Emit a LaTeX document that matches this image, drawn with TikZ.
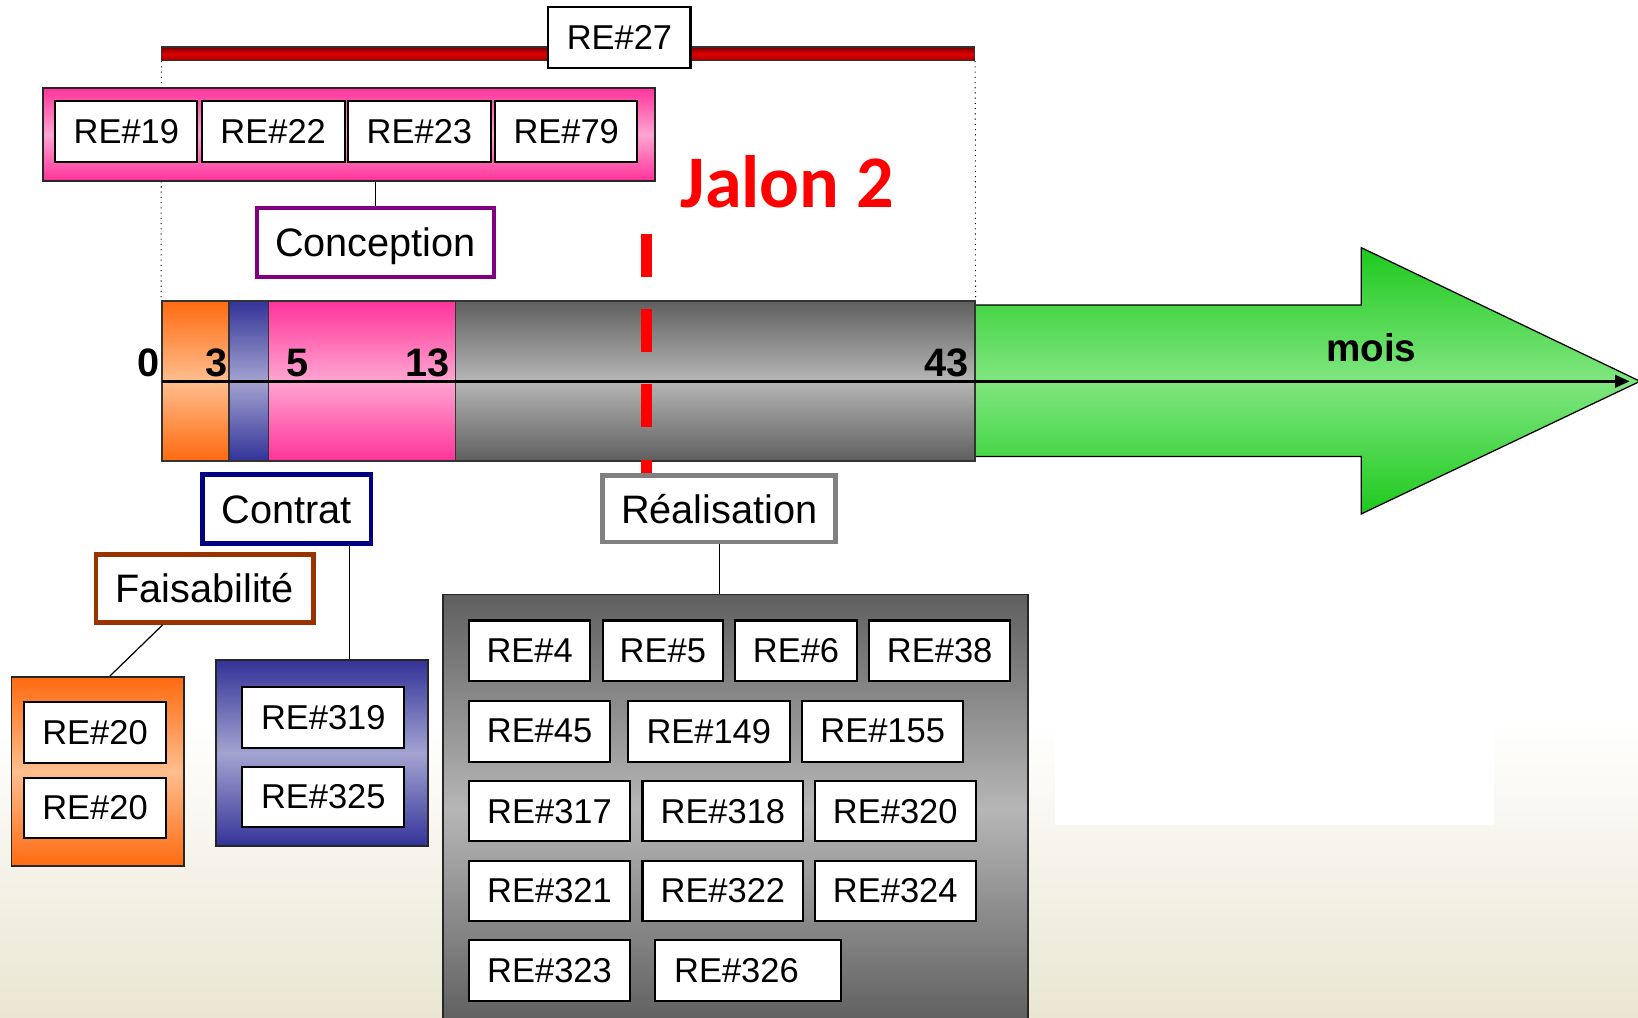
\documentclass[tikz,border=0pt]{standalone}
\usepackage{fontspec}
\setmainfont{Liberation Sans}
\newfontfamily\jalonfont{Carlito}
\usetikzlibrary{fit,calc,arrows.meta}

\definecolor{bgbeige}{HTML}{EAE6D2}
\definecolor{orEdge}{HTML}{FF6A10}
\definecolor{orMid}{HTML}{FFBE8E}
\definecolor{blEdge}{HTML}{333399}
\definecolor{blMid}{HTML}{A3A3D1}
\definecolor{pkEdge}{HTML}{FF3399}
\definecolor{pkMid}{HTML}{FFA6D2}
\definecolor{grEdge}{HTML}{5F5F5F}
\definecolor{grMid}{HTML}{B6B6B6}
\definecolor{gnEdge}{HTML}{1DC91D}
\definecolor{gnMid}{HTML}{80E680}
\definecolor{rbTop}{HTML}{7A0000}
\definecolor{rbMid}{HTML}{E00000}
\definecolor{rbBot}{HTML}{A00000}
\definecolor{conceptc}{HTML}{800080}
\definecolor{contratc}{HTML}{000080}
\definecolor{faisac}{HTML}{993300}
\definecolor{realc}{HTML}{808080}
\definecolor{jalonred}{HTML}{FF0000}

\newcommand\refont{\fontsize{16.5pt}{18pt}\selectfont}
\newcommand\phasefont{\fontsize{19pt}{21pt}\selectfont}
\newcommand\numfont{\bfseries\fontsize{19pt}{21pt}\selectfont}
% box node spanning the corners (x1,y1)-(x2,y2)
\newcommand\bx[7][rebox]{\node[#1, minimum width={(#5-#3)*0.5pt}, minimum height={(#6-#4)*0.5pt}]
  (#2) at ({(#3+#5)/2},{(#4+#6)/2}) {#7};}

\begin{document}
\begin{tikzpicture}[x=0.5pt,y=-0.5pt,
  rebox/.style={draw=black, fill=white, line width=1pt, inner sep=0pt, font=\refont},
  grp/.style={inner sep=0pt, draw=black!85, line width=0.8pt},
  seg/.style={inner sep=0pt, draw=black!80, line width=0.8pt},
  phase/.style={fill=white, line width=2.2pt, inner sep=0pt, font=\phasefont,
                text height=13.7pt, text depth=0pt},
  orshade/.style={top color=orEdge, bottom color=orEdge, middle color=orMid},
  blshade/.style={top color=blEdge, bottom color=blEdge, middle color=blMid},
  pkshade/.style={top color=pkEdge, bottom color=pkEdge, middle color=pkMid},
  grshade/.style={top color=grEdge, bottom color=grEdge, middle color=grMid},
  link/.style={draw=black, line width=0.6pt},
  numlabel/.style={font=\numfont, inner sep=0pt}]
\useasboundingbox (0,0) rectangle (1568,974);

% page background
\fill[white] (0,0) rectangle (1568,974);
\shade[top color=white, bottom color=bgbeige] (0,690) rectangle (1568,974);
\fill[white] (1010,650) rectangle (1430,790);

% time arrow
\path[draw=black, line width=0.6pt, top color=gnEdge, bottom color=gnEdge, middle color=gnMid]
  (933,292) -- (1303,292) -- (1303,237) -- (1570,365) -- (1303,492) -- (1303,437) -- (933,437) -- cycle;

% phase segments of the timeline
\node[seg, orshade, fit={(155,288) (219,441)}] (seg0) {};
\node[seg, blshade, fit={(219,288) (257,441)}] (seg1) {};
\node[seg, pkshade, fit={(257,288) (436,441)}] (seg2) {};
\node[seg, grshade, fit={(436,288) (933,441)}] (seg3) {};

\coordinate (axisL) at (155,365);
\coordinate (axisR) at (1560,365);
\draw[line width=1.2pt, -{Triangle[length=7pt,width=6pt]}] (axisL) -- (axisR);

\node[numlabel, anchor=base east] (m0) at (153,360) {0};
\node[numlabel, anchor=base east] (m3) at (218,360) {3};
\node[numlabel, anchor=base west] (m5) at (274,360) {5};
\node[numlabel, anchor=base east] (m13) at (431,360) {13};
\node[numlabel, anchor=base east] (m43) at (928,360) {43};
\node[font=\bfseries\fontsize{18.5pt}{20pt}\selectfont, inner sep=0pt, anchor=base west] (mois) at (1269,346) {mois};

% global requirement bar
\node[inner sep=0pt, draw=black!80, line width=0.5pt, top color=rbTop, bottom color=rbBot, middle color=rbMid,
      fit={(155,45) (933,58)}] (redbar) {};
\draw[dotted, line width=0.5pt] (redbar.south west) -- (seg0.north west);
\draw[dotted, line width=0.5pt] (redbar.south east) -- (seg3.north east);
\bx{re27}{525}{7}{661}{65}{RE\#27}

% conception requirements
\node[grp, pkshade, fit={(41,84) (627,173)}] (pkgrp) {};
\bx{re19}{53}{97}{189}{155}{RE\#19}
\bx{re22}{193}{97}{330}{155}{RE\#22}
\bx{re23}{333}{97}{470}{155}{RE\#23}
\bx{re79}{474}{97}{610}{155}{RE\#79}
\bx[phase, draw=conceptc]{concept}{246}{199}{473}{265}{Conception}
\draw[link] (concept.north) -- (concept.north |- pkgrp.south);

% milestone
\coordinate (j2top) at (619,224);
\coordinate (j2bot) at (619,456);
\draw[jalonred, line width=5.5pt, dash pattern=on 20.5pt off 15.5pt] (j2top) -- (j2bot);
\node[font=\jalonfont\bfseries\fontsize{35.5pt}{38pt}\selectfont, text=jalonred, inner sep=0pt, anchor=base west]
  (jalon) at (651,199) {Jalon 2};

% phase labels
\bx[phase, draw=contratc]{contrat}{194}{454}{355}{520}{Contrat}
\bx[phase, draw=faisac]{faisa}{92}{531}{300}{596}{Faisabilité}
\bx[phase, draw=realc]{real}{577}{455}{800}{519}{Réalisation}

% feasibility requirements
\node[grp, orshade, fit={(11,648) (176,829)}] (orgrp) {};
\bx{re20a}{23}{672}{159}{730}{RE\#20}
\bx{re20b}{23}{745}{159}{802}{RE\#20}
\draw[link] ($(faisa.south west)!0.31!(faisa.south east)$) -- ($(orgrp.north west)!0.57!(orgrp.north east)$);

% contract requirements
\node[grp, blshade, fit={(207,632) (410,810)}] (blgrp) {};
\bx{re319}{232}{658}{387}{716}{RE\#319}
\bx{re325}{232}{734}{387}{792}{RE\#325}
\coordinate (ctlink) at ($(contrat.south west)!0.865!(contrat.south east)$);
\draw[link] (ctlink) -- (ctlink |- blgrp.north);

% realisation requirements
\node[grp, grshade, fit={(424,569) (984,980)}] (grgrp) {};
\draw[link] (real.south) -- (real.south |- grgrp.north);
\bx{re4}{449}{594}{565}{652}{RE\#4}
\bx{re5}{577}{594}{692}{652}{RE\#5}
\bx{re6}{704}{594}{820}{652}{RE\#6}
\bx{re38}{832}{594}{967}{652}{RE\#38}
\bx{re45}{449}{671}{584}{729}{RE\#45}
\bx{re149}{601}{671}{756}{729}{RE\#149}
\bx{re155}{768}{671}{922}{729}{RE\#155}
\bx{re317}{449}{748}{603}{805}{RE\#317}
\bx{re318}{615}{748}{769}{805}{RE\#318}
\bx{re320}{780}{748}{934}{805}{RE\#320}
\bx{re321}{449}{824}{603}{882}{RE\#321}
\bx{re322}{615}{824}{769}{882}{RE\#322}
\bx{re324}{780}{824}{934}{882}{RE\#324}
\bx{re323}{449}{900}{603}{958}{RE\#323}
\bx{re326}{627}{900}{805}{958}{RE\#326\hspace*{11pt}}
\end{tikzpicture}
\end{document}
